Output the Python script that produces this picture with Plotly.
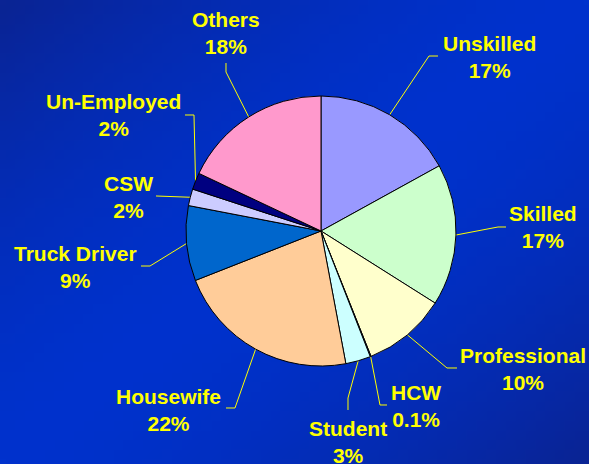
import math, zlib, struct, base64
import plotly.graph_objects as go

# ---- data ----
categories = ["Unskilled", "Skilled", "Professional", "HCW", "Student",
              "Housewife", "Truck Driver", "CSW", "Un-Employed", "Others"]
values = [17, 17, 10, 0.1, 3, 22, 9, 2, 2, 18]
colors = ["#9999FF", "#CCFFCC", "#FFFFCC", "#6699FF", "#CCFFFF",
          "#FFCC99", "#0066CC", "#CCCCFF", "#000080", "#FF99CC"]

# ---- layout constants (pixels) ----
W, H = 589, 464
cx, cy, R = 321, 231, 135
label_pos = {
    "Unskilled": (489, 57), "Skilled": (543, 227), "Professional": (523, 369),
    "HCW": (416, 406), "Student": (348, 442), "Housewife": (168, 410),
    "Truck Driver": (75, 267), "CSW": (128, 197), "Un-Employed": (113, 115),
    "Others": (226, 33),
}
leader_pts = {
    "Unskilled": [(429, 56), (438, 56)], "Skilled": [(498, 227), (506, 227)],
    "Professional": [(447, 368), (457, 368)], "HCW": [(380, 405), (387, 405)],
    "Student": [(348, 398), (348, 410)], "Housewife": [(235, 408), (226, 408)],
    "Truck Driver": [(150, 266), (141, 266)], "CSW": [(156, 196)],
    "Un-Employed": [(194, 115), (185, 115)], "Others": [(226, 72), (226, 63)],
}

def px(x):
    return x / W

def py(y):
    return 1 - y / H

# ---- background gradient image ----
def make_bg(w=60, h=48):
    bright = (0, 50, 205)
    dark = (10, 36, 148)
    rows = b""
    for j in range(h):
        row = b"\x00"
        for i in range(w):
            d = abs(i / (w - 1) + j / (h - 1) - 1)
            t = d ** 1.6
            c = [int(bright[k] * (1 - t) + dark[k] * t) for k in range(3)]
            row += bytes(c)
        rows += row
    def chunk(tag, data):
        return struct.pack(">I", len(data)) + tag + data + struct.pack(">I", zlib.crc32(tag + data) & 0xffffffff)
    png = b"\x89PNG\r\n\x1a\n"
    png += chunk(b"IHDR", struct.pack(">IIBBBBB", w, h, 8, 2, 0, 0, 0))
    png += chunk(b"IDAT", zlib.compress(rows))
    png += chunk(b"IEND", b"")
    return "data:image/png;base64," + base64.b64encode(png).decode()

fig = go.Figure(go.Pie(
    labels=categories, values=values, sort=False, direction="clockwise",
    rotation=0, textinfo="none", hoverinfo="label+percent",
    marker=dict(colors=colors, line=dict(color="black", width=1)),
    domain=dict(x=[px(cx - R), px(cx + R)], y=[py(cy + R), py(cy - R)]),
    showlegend=False,
))

total = sum(values)
cum = 0
shapes, annotations = [], []
for cat, v in zip(categories, values):
    mid = (cum + v / 2) / total * 2 * math.pi
    cum += v
    ex, ey = cx + R * math.sin(mid), cy - R * math.cos(mid)
    pts = [(ex, ey)] + leader_pts[cat]
    path = "M " + " L ".join(f"{px(x):.5f},{py(y):.5f}" for x, y in pts)
    shapes.append(dict(type="path", xref="paper", yref="paper", path=path,
                       line=dict(color="#FFFF00", width=1), layer="below"))
    lx, ly = label_pos[cat]
    annotations.append(dict(
        x=px(lx), y=py(ly), xref="paper", yref="paper", showarrow=False,
        text=f"{cat}<br>{v:g}%", xanchor="center", yanchor="middle",
        align="center",
        font=dict(family="Liberation Sans, Arial, sans-serif", size=21,
                  color="#FFFF00", weight="bold"),
    ))

fig.update_layout(
    width=W, height=H, margin=dict(l=0, r=0, t=0, b=0),
    paper_bgcolor="#0030C0", plot_bgcolor="rgba(0,0,0,0)",
    shapes=shapes, annotations=annotations,
    images=[dict(source=make_bg(), xref="paper", yref="paper", x=0, y=1,
                 sizex=1, sizey=1, sizing="stretch", layer="below",
                 xanchor="left", yanchor="top")],
)

fig.write_html("out.html", config={"displayModeBar": False},
               post_script="document.body.style.margin='0';document.body.style.overflow='hidden';")
